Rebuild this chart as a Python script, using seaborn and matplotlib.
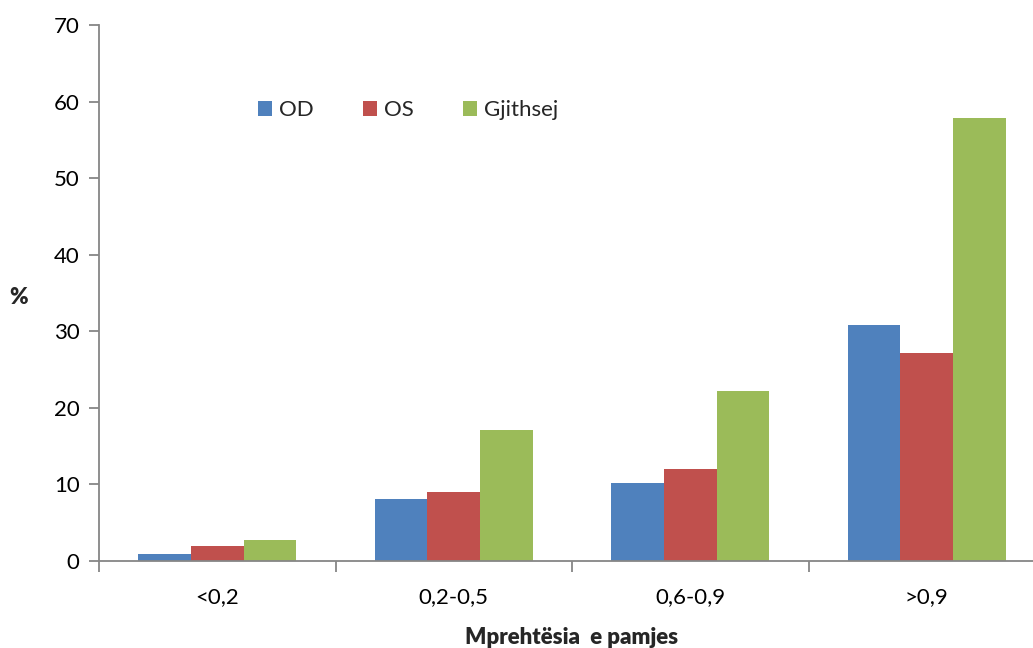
import matplotlib
matplotlib.use("Agg")
import matplotlib.pyplot as plt
from matplotlib.ticker import FixedLocator, MultipleLocator
import seaborn as sns
import pandas as pd

categories = ["<0,2", "0,2-0,5", "0,6-0,9", ">0,9"]
series = ["OD", "OS", "Gjithsej"]
od = [0.9, 8.1, 10.2, 30.8]
os_vals = [1.9, 9.0, 12.0, 27.1]
gjithsej = [2.8, 17.1, 22.2, 57.8]
colors = ["#4F81BD", "#C0504D", "#9BBB59"]

df = pd.DataFrame({
    "cat": categories * 3,
    "series": [s for s in series for _ in categories],
    "val": od + os_vals + gjithsej,
})

sns.set_theme(style="white")
plt.rcParams["font.family"] = ["Lato", "DejaVu Sans"]

fig = plt.figure(figsize=(10.33, 6.48), dpi=100)
W, H = 1033, 648
ax = fig.add_axes([99 / W, (H - 561) / H, 946 / W, 536 / H])

sns.barplot(data=df, x="cat", y="val", hue="series", order=categories,
            hue_order=series, palette=colors, width=0.67, saturation=1,
            edgecolor="none", linewidth=0, ax=ax)

ax.set_xlim(-0.5, 3.5)
ax.set_ylim(0, 70)
ax.yaxis.set_major_locator(MultipleLocator(10))

axis_col = "#868686"
for side in ["top", "right"]:
    ax.spines[side].set_visible(False)
for side in ["left", "bottom"]:
    ax.spines[side].set_color(axis_col)
    ax.spines[side].set_linewidth(1.3)

ax.tick_params(axis="y", which="major", left=True, length=7, width=1.3,
               color=axis_col, labelsize=16, labelcolor="black", pad=7)
ax.tick_params(axis="x", which="major", bottom=False, labelsize=16,
               labelcolor="black", pad=13)
ax.xaxis.set_minor_locator(FixedLocator([-0.5, 0.5, 1.5, 2.5, 3.5]))
ax.tick_params(axis="x", which="minor", bottom=True, length=8, width=1.3,
               color=axis_col)

ax.set_xlabel("Mprehtësia  e pamjes", fontsize=16, fontweight="heavy",
              labelpad=14)
ax.set_ylabel("%", fontsize=16, fontweight="heavy", rotation=0,
              va="center", labelpad=0)
ax.yaxis.set_label_coords(-80 / 946, (561 - 298) / 536)

leg = ax.legend(loc="upper left", bbox_to_anchor=(139 / 946, (561 - 80) / 536),
                ncol=3, frameon=False, fontsize=16, handlelength=0.65,
                handleheight=0.65, handletextpad=0.3, columnspacing=2.2)

fig.savefig("out.png", dpi=100)
